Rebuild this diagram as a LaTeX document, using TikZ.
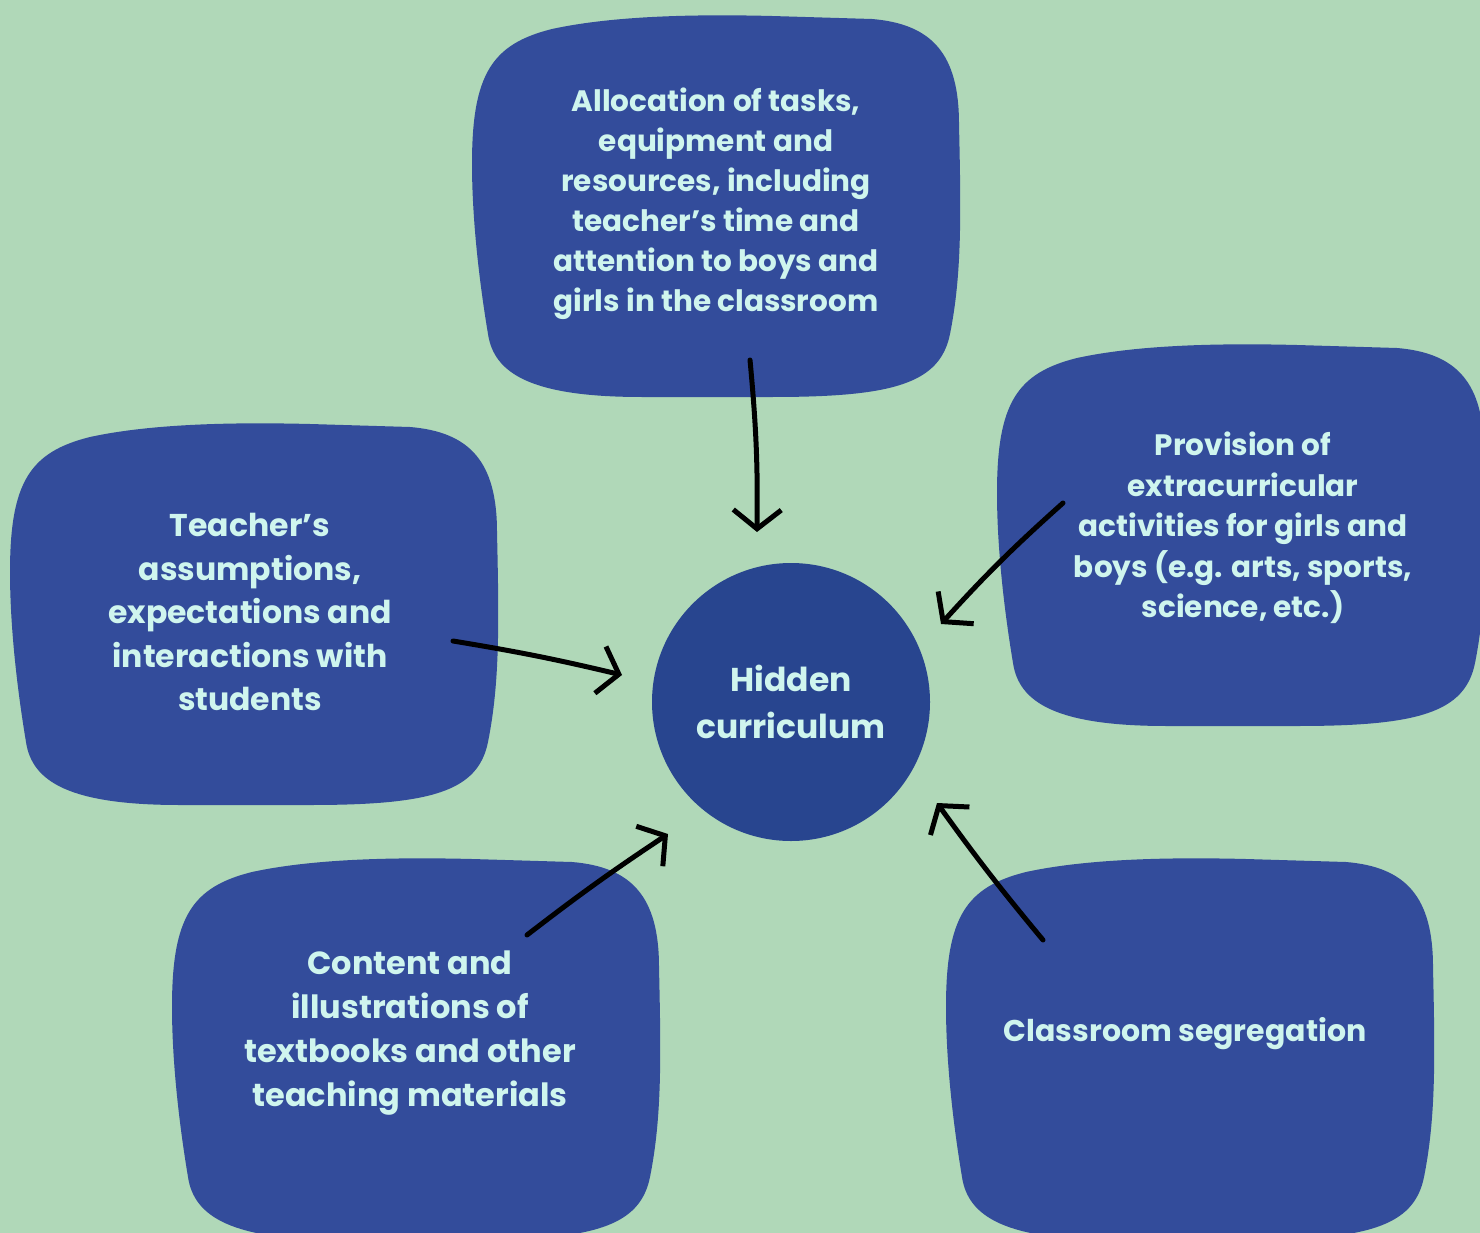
\documentclass[tikz,border=0pt]{standalone}
\usepackage{fontspec}
\setmainfont{Poppins}
\usetikzlibrary{arrows.meta}
\definecolor{bggreen}{HTML}{B0D8B8}
\definecolor{boxblue}{HTML}{334C9B}
\definecolor{hubblue}{HTML}{28458F}
\definecolor{textmint}{HTML}{CFF5EE}
\tikzset{
  blobshape/.pic={
    \fill[boxblue] (0,150) .. controls (0,60) and (20,30) .. (80,15)
      .. controls (140,2) and (220,0) .. (300,2) -- (400,5)
      .. controls (460,10) and (487,40) .. (487,110)
      .. controls (489,200) and (490,260) .. (478,320)
      .. controls (468,370) and (420,383) .. (300,383) -- (170,383)
      .. controls (60,383) and (22,360) .. (16,320)
      .. controls (6,260) and (0,200) .. (0,150) -- cycle;
  },
  boxtext/.style={text=textmint, align=center, inner sep=0pt,
    font=\bfseries\fontsize{29.5}{40}\selectfont},
  bigtext/.style={boxtext, font=\bfseries\fontsize{31.5}{43.5}\selectfont},
  hub/.style={circle, fill=hubblue, minimum size=278pt, inner sep=0pt,
    text=textmint, align=center, font=\bfseries\fontsize{33}{47}\selectfont},
  scribble/.style={line width=5pt, line cap=round,
    -{Straight Barb[length=19pt,width=48pt]}}
}
\begin{document}
\begin{tikzpicture}[x=1pt,y=-1pt]
  \fill[bggreen] (0,0) rectangle (1480,1233);
  \useasboundingbox (0,0) rectangle (1480,1233);
  \clip (0,0) rectangle (1480,1233);

  \pic at (472,14) {blobshape};
  \pic at (10,422) {blobshape};
  \pic at (997,343) {blobshape};
  \pic at (172,857) {blobshape};
  \pic at (946,857) {blobshape};

  \node[hub] (hidden) at (791,702) {Hidden\\curriculum};

  \node[boxtext] (alloc) at (716,204)
    {Allocation of tasks,\\equipment and\\resources, including\\teacher’s time and\\attention to boys and\\girls in the classroom};
  \node[bigtext] (teacher) at (250,612)
    {Teacher’s\\assumptions,\\expectations and\\interactions with\\students};
  \node[boxtext, font=\bfseries\fontsize{29.5}{40.5}\selectfont] (provision) at (1243,528)
    {Provision of\\extracurricular\\activities for girls and\\boys (e.g. arts, sports,\\science, etc.)};
  \node[bigtext, font=\bfseries\fontsize{32}{44}\selectfont] (content) at (410,1033)
    {Content and\\illustrations of\\textbooks and other\\teaching materials};
  \node[bigtext, font=\bfseries\fontsize{30}{40}\selectfont] (segregation) at (1185,1034) {Classroom segregation};

  \coordinate (allocTail) at (750,360);
  \coordinate (allocHead) at (757,532);
  \coordinate (teacherTail) at (453,641);
  \coordinate (teacherHead) at (622,675);
  \coordinate (provisionTail) at (1063,503);
  \coordinate (provisionHead) at (941,624);
  \coordinate (contentTail) at (527,935);
  \coordinate (contentHead) at (668,834);
  \coordinate (segregationTail) at (1043,940);
  \coordinate (segregationHead) at (937,803);

  \draw[scribble] (allocTail) to[bend left=3] (allocHead);
  \draw[scribble] (teacherTail) to[bend left=2] (teacherHead);
  \draw[scribble] (provisionTail) to[bend right=3] (provisionHead);
  \draw[scribble] (contentTail) to[bend left=2] (contentHead);
  \draw[scribble] (segregationTail) to[bend left=2] (segregationHead);
\end{tikzpicture}
\end{document}
